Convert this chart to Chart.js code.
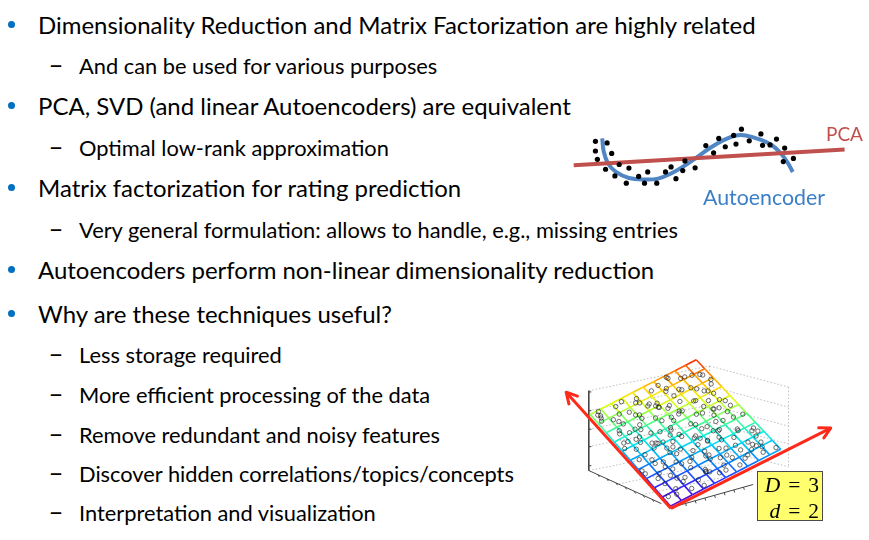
<!DOCTYPE html>
<html><head><meta charset="utf-8">
<script src="https://cdn.jsdelivr.net/npm/chart.js@4.4.1/dist/chart.umd.min.js"></script>
<style>
html,body{margin:0;padding:0;background:#fff;}
#page{position:relative;width:869px;height:540px;overflow:hidden;background:#fff;font-family:Lato,'Open Sans',sans-serif;color:#000;}
.line{position:absolute;white-space:nowrap;line-height:1.2;}
.dot{position:absolute;width:7px;height:7px;border-radius:50%;background:#0070C0;}
canvas{position:absolute;}
#ybox{position:absolute;left:757px;top:471px;width:64px;height:48px;background:#FFFF6E;border:1.5px solid #4a4a4a;}
</style></head><body><div id="page"></div>
<script>
// ---------- slide text ----------
const bulletTexts = [
  "Dimensionality Reduction and Matrix Factorization are highly related",
  "And can be used for various purposes",
  "PCA, SVD (and linear Autoencoders) are equivalent",
  "Optimal low-rank approximation",
  "Matrix factorization for rating prediction",
  "Very general formulation: allows to handle, e.g., missing entries",
  "Autoencoders perform non-linear dimensionality reduction",
  "Why are these techniques useful?",
  "Less storage required",
  "More efficient processing of the data",
  "Remove redundant and noisy features",
  "Discover hidden correlations/topics/concepts",
  "Interpretation and visualization"
];
const bulletLevels = [1,2,1,2,1,2,1,1,2,2,2,2,2];

// ---------- PCA / autoencoder illustration data ----------
const pcaDotsX = [3.23,4.43,3.23,4.9,3.43,4.27,5.67,6.67,5.23,7.67,8.6,6.4,8.27,9.53,10.43,11.0,11.5,12.2,12.43,13.47,14.57,15.37,15.9,16.57,17.43,17.67,18.23,19.03,20.23,20.4,21.17,21.83,22.67,23.57,22.53];
const pcaDotsY = [2.07,1.9,1.0,0.73,0.07,-1.03,-0.5,-0.9,-1.77,-1.83,-1.33,-2.57,-2.57,-2.57,-1.33,-0.77,-2.07,-1.17,-0.1,-0.87,1.6,0.8,2.4,1.47,2.73,1.77,3.43,2.13,2.9,1.63,1.67,2.33,1.33,0.17,-0.17];
const autoencoderX = [3.93,4.07,4.5,5.33,6.67,8.33,9.67,11.0,12.33,13.67,15.0,16.33,17.67,18.67,20.0,21.33,22.33,23.0,23.5];
const autoencoderY = [2.4,1.0,-0.33,-1.33,-2.0,-2.17,-2.07,-1.5,-0.67,0.33,1.33,2.17,2.73,2.73,2.33,1.67,0.67,-0.33,-1.33];
const pcaLineX = [1.0,28.83];
const pcaLineY = [-0.57,1.17];

// ---------- 3D plane illustration data ----------
const gridCount = 10;
const planeU = [
0.5,1.2,2.1,2.9,3.6,4.4,5.3,6.2,7.1,8.0,8.8,9.5,
0.8,1.6,2.4,3.1,4.0,4.8,5.7,6.5,7.4,8.3,9.1,
0.3,1.0,1.9,2.7,3.5,4.3,5.0,5.9,6.8,7.7,8.6,9.4,
0.6,1.4,2.2,3.0,3.8,4.6,5.5,6.3,7.2,8.1,8.9,9.7,
0.2,1.1,2.0,2.8,3.7,4.5,5.2,6.0,6.9,7.8,8.5,9.3,
0.9,1.7,2.5,3.4,4.2,5.1,5.8,6.7,7.5,8.4,9.2,
0.4,1.3,2.3,3.2,4.1,4.9,5.6,6.6,7.3,8.2,9.0,9.8,
0.7,1.5,2.6,3.3,4.2,5.0,6.1,6.9,7.9,8.7,9.5,
1.9,3.9,5.6,7.3,0.9,2.6,4.7,6.4,8.9,3.1,5.9,7.6,1.4,4.4,6.9,2.2,8.2,0.6,5.3,9.1,
0.35,1.45,2.75,3.85,4.95,6.05,7.15,8.25,9.35,
0.95,2.05,3.15,4.25,5.35,6.45,7.55,8.65,9.75,
0.55,1.65,2.85,3.95,5.05,6.15,7.25,8.35,9.45,
1.25,2.35,3.45,4.55,5.65,6.75,7.85,8.95,
0.15,1.85,2.95,4.05,5.15,6.25,7.35,8.45,9.55,
0.75,1.95,3.05,4.15,5.25,6.35,7.45,8.55,9.65,
1.05,2.15,3.25,4.35,5.45,6.55,7.65,8.75,
0.45,1.55,2.65,3.75,4.85,5.95,7.05,8.15,9.25
];
const planeV = [
9.3,8.7,9.6,8.2,9.1,8.5,9.4,8.8,9.7,8.1,9.0,8.6,
7.4,8.0,6.9,7.7,7.2,7.9,6.6,7.5,7.0,7.8,6.8,
6.1,5.6,6.4,5.2,6.0,5.7,6.3,5.4,5.9,6.2,5.5,5.8,
4.7,4.2,5.0,4.5,3.9,4.8,4.3,4.6,3.8,4.4,4.9,4.1,
3.4,2.9,3.6,3.1,2.6,3.3,2.8,3.5,3.0,2.7,3.2,2.5,
1.9,2.3,1.6,2.1,1.4,2.0,1.7,2.2,1.5,1.8,1.3,
0.8,1.1,0.5,0.9,1.2,0.6,1.0,0.4,0.7,1.1,0.9,0.3,
9.9,7.1,5.3,3.7,8.4,2.4,6.7,4.0,9.2,1.2,7.6,
8.9,9.4,7.6,8.3,6.5,7.3,8.1,9.0,7.2,5.1,6.8,4.6,3.8,5.9,3.3,2.7,5.6,9.5,4.2,6.1,
9.05,8.35,9.75,8.95,8.25,9.55,8.45,9.15,8.75,
7.65,7.15,8.05,6.75,7.45,8.15,6.95,7.35,7.95,
6.55,5.95,6.25,5.35,6.65,5.15,5.75,6.45,5.25,
4.85,5.45,4.35,5.05,3.95,4.55,5.15,4.25,
3.75,3.15,4.05,2.85,3.55,2.45,3.85,3.05,2.65,
2.55,1.85,2.75,1.25,2.35,1.65,2.05,1.45,2.25,
0.65,1.35,0.25,1.05,0.55,1.25,0.85,0.45,
9.65,6.35,8.65,4.75,7.85,3.45,9.85,5.65,1.95
];

// ---------- layout ----------
const page = document.getElementById('page');
const lineBaselines = [34,74,115,156,197,238,279,323,363,403,443,482,521];

function measure(html, size, family) {
  const s = document.createElement('span');
  s.style.cssText = 'position:absolute;white-space:nowrap;visibility:hidden;font-size:'+size+'px;'+(family?'font-family:'+family+';':'');
  s.innerHTML = html;
  page.appendChild(s);
  const w = s.getBoundingClientRect().width;
  page.removeChild(s);
  return w;
}
function makeText(html, left, baseline, size, opts) {
  opts = opts || {};
  if (opts.fitWidth) size = size * opts.fitWidth / measure(html, size, opts.family);
  const d = document.createElement('div');
  d.className = 'line';
  d.style.left = left + 'px';
  d.style.fontSize = size + 'px';
  if (opts.lineHeight) d.style.lineHeight = opts.lineHeight;
  if (opts.wordSpacing) d.style.wordSpacing = opts.wordSpacing;
  if (opts.color) d.style.color = opts.color;
  if (opts.family) d.style.fontFamily = opts.family;
  if (opts.align) { d.style.textAlign = opts.align; d.style.width = opts.width + 'px'; }
  const m = document.createElement('span');
  m.style.cssText = 'display:inline-block;width:0;height:0;vertical-align:baseline;';
  const t = document.createElement('span');
  t.innerHTML = html;
  d.appendChild(m); d.appendChild(t);
  page.appendChild(d);
  d.style.top = (baseline - m.offsetTop) + 'px';
  return d;
}

const size1 = 24 * 718 / measure(bulletTexts[0], 24);
const size2 = 20 * 599 / measure(bulletTexts[5], 20);
bulletTexts.forEach((txt, i) => {
  const b = lineBaselines[i];
  if (bulletLevels[i] === 1) {
    const dot = document.createElement('div');
    dot.className = 'dot';
    dot.style.left = '7.5px';
    dot.style.top = (b - 13.5) + 'px';
    page.appendChild(dot);
    makeText(txt, 38, b, size1);
  } else {
    makeText('\u2013', 48.5, b, size2, {fitWidth: 15});
    makeText(txt, 79, b, size2);
  }
});

// ---------- PCA chart ----------
function addCanvas(left, top, w, h) {
  const c = document.createElement('canvas');
  c.width = w; c.height = h;
  c.style.left = left + 'px'; c.style.top = top + 'px';
  c.style.width = w + 'px'; c.style.height = h + 'px';
  page.appendChild(c);
  return c;
}
const zip = (xs, ys) => xs.map((x, i) => ({x: x, y: ys[i]}));
const hiddenScales = (xmin, xmax, ymin, ymax) => ({
  x: {type: 'linear', min: xmin, max: xmax, display: false},
  y: {type: 'linear', min: ymin, max: ymax, display: false}
});
const baseOpts = {
  responsive: false, animation: false, events: [],
  layout: {padding: 0},
  plugins: {legend: {display: false}, tooltip: {enabled: false}}
};

new Chart(addCanvas(560, 120, 300, 80), {
  type: 'scatter',
  data: {datasets: [
    {data: zip(pcaDotsX, pcaDotsY), pointRadius: 2.6, pointBackgroundColor: '#000', pointBorderWidth: 0, clip: false},
    {data: zip(pcaLineX, pcaLineY), showLine: true, pointRadius: 0, borderColor: '#C0504D', borderWidth: 4, clip: false},
    {data: zip(autoencoderX, autoencoderY), showLine: true, pointRadius: 0, borderColor: '#4F86C3', borderWidth: 4, tension: 0.4, borderCapStyle: 'butt', clip: false}
  ]},
  options: Object.assign({}, baseOpts, {scales: hiddenScales(0, 30, -4, 4)})
});
makeText('PCA', 826, 141, 20, {color: '#C0504D', fitWidth: 37});
makeText('Autoencoder', 703, 205, 20, {color: '#3B7FC6', fitWidth: 122});

// ---------- 3D plane chart ----------
const cB = [39.8, 10.2], cR = [77.8, 30.2], cL = [12.2, 42.4], cT = [48.7, 61.6];
function proj(u, v) {
  const a = u / gridCount, b = v / gridCount;
  return {
    x: cB[0]*(1-a)*(1-b) + cR[0]*a*(1-b) + cL[0]*(1-a)*b + cT[0]*a*b,
    y: cB[1]*(1-a)*(1-b) + cR[1]*a*(1-b) + cL[1]*(1-a)*b + cT[1]*a*b
  };
}
const cmapStops = [[0,[95,0,200]],[0.14,[45,35,255]],[0.3,[0,140,255]],[0.44,[0,230,240]],[0.57,[70,255,140]],[0.7,[215,255,20]],[0.78,[255,225,0]],[0.9,[255,140,0]],[1,[255,30,0]]];
function cmap(h) {
  h = Math.max(0, Math.min(1, h));
  for (let i = 1; i < cmapStops.length; i++) {
    const [h1, c1] = cmapStops[i], [h0, c0] = cmapStops[i-1];
    if (h <= h1) {
      const t = (h - h0) / (h1 - h0);
      return 'rgb(' + c0.map((c, k) => Math.round(c + (c1[k]-c)*t)).join(',') + ')';
    }
  }
  return 'rgb(255,30,0)';
}
const height = (u, v) => (0.35*u + 0.65*v) / gridCount;

const ticks = [];
const gridSets = [];
for (let k = 0; k <= gridCount; k++) {
  const alongU = [], alongV = [];
  for (let i = 0; i <= gridCount; i++) { alongU.push(proj(i, k)); alongV.push(proj(k, i)); }
  const kk = k;
  gridSets.push({data: alongU, showLine: true, pointRadius: 0, borderWidth: 1.6, clip: false,
    segment: {borderColor: ctx => cmap(height(ctx.p0DataIndex + 0.5, kk))}});
  gridSets.push({data: alongV, showLine: true, pointRadius: 0, borderWidth: 1.6, clip: false,
    segment: {borderColor: ctx => cmap(height(kk, ctx.p0DataIndex + 0.5))}});
}
const boxSolid = [
  [{x:11.7,y:50.7},{x:11.7,y:22.7}],
  [{x:11.7,y:22.7},{x:36.7,y:11.1}],
  [{x:41.7,y:10.2},{x:68.3,y:17.8}]
];
const boxDotted = [
  [{x:11.7,y:50.7},{x:53.3,y:59.4}],
  [{x:53.3,y:59.4},{x:53.3,y:31.1}],
  [{x:11.7,y:22.7},{x:53.3,y:31.1}],
  [{x:53.3,y:31.1},{x:80.5,y:24.0}],
  [{x:53.3,y:59.4},{x:80.5,y:52.0}],
  [{x:80.5,y:52.0},{x:80.5,y:24.0}],
  [{x:11.7,y:43.7},{x:53.3,y:52.3}],
  [{x:11.7,y:37.2},{x:53.3,y:45.7}],
  [{x:11.7,y:31.1},{x:53.3,y:39.6}],
  [{x:53.3,y:52.3},{x:80.5,y:45.0}],
  [{x:53.3,y:45.7},{x:80.5,y:38.3}],
  [{x:53.3,y:39.6},{x:80.5,y:32.0}],
  [{x:22,y:18},{x:62,y:26.5}],
  [{x:30,y:14.2},{x:68,y:22.5}]
];
const tickY = [50.3, 43.7, 37.2, 31.1, 24.4];
tickY.forEach(t => ticks.push([{x:11.7,y:t},{x:12.6,y:t}]));
for (let i = 1; i < 8; i++) {
  const f = i / 8;
  const p = {x: 11.7 + (36.7-11.7)*f, y: 22.7 + (11.1-22.7)*f};
  ticks.push([p, {x: p.x + 0.5, y: p.y - 0.8}]);
  const q = {x: 41.7 + (68.3-41.7)*f, y: 10.2 + (17.8-10.2)*f};
  ticks.push([q, {x: q.x + 0.3, y: q.y - 0.9}]);
}
const arrowOrigin = {x: 40, y: 9.4};
const arrowTips = [{x: 3.9, y: 50.2}, {x: 95, y: 37.6}];

const arrowHeads = {
  id: 'arrowHeads',
  afterDatasetsDraw(chart) {
    const ctx = chart.ctx;
    chart.data.datasets.forEach((ds, di) => {
      if (!ds.isArrow) return;
      const pts = chart.getDatasetMeta(di).data;
      const a = pts[0], b = pts[1];
      const ang = Math.atan2(b.y - a.y, b.x - a.x);
      ctx.save();
      ctx.strokeStyle = ds.borderColor; ctx.lineWidth = 3; ctx.lineCap = 'round';
      ctx.beginPath();
      [0.5, -0.5].forEach(s => {
        ctx.moveTo(b.x, b.y);
        ctx.lineTo(b.x - 12*Math.cos(ang + s), b.y - 12*Math.sin(ang + s));
      });
      ctx.stroke();
      ctx.restore();
    });
  }
};

const datasets3d = [];
arrowTips.forEach(t => datasets3d.push({data: [arrowOrigin, t], isArrow: true, showLine: true, pointRadius: 0, borderColor: '#FF2A1A', borderWidth: 3, clip: false}));
datasets3d.push({data: planeU.map((u, i) => proj(u, planeV[i])), pointRadius: 2.2, pointBorderWidth: 0.8, pointBorderColor: 'rgba(30,30,30,0.8)', pointBackgroundColor: 'rgba(0,0,0,0)', clip: false});
gridSets.forEach(g => datasets3d.push(g));
boxSolid.concat(ticks).forEach(s => datasets3d.push({data: s, showLine: true, pointRadius: 0, borderColor: '#444', borderWidth: 1, clip: false}));
boxDotted.forEach(s => datasets3d.push({data: s, showLine: true, pointRadius: 0, borderColor: '#bdbdbd', borderWidth: 1, borderDash: [1.5, 2], clip: false}));

new Chart(addCanvas(550, 350, 300, 190), {
  type: 'scatter',
  data: {datasets: datasets3d},
  options: Object.assign({}, baseOpts, {scales: hiddenScales(0, 100, 0, 63.333)}),
  plugins: [arrowHeads]
});

// ---------- D/d label box ----------
const yb = document.createElement('div');
yb.id = 'ybox';
page.appendChild(yb);
const serif = "'Liberation Serif','DejaVu Serif',serif";
makeText('<i>D</i> = 3<br><i>d</i> = 2', 759, 492, 21.5,
  {family: serif, lineHeight: '26px', wordSpacing: '2.5px', align: 'right', width: 60});
</script></body></html>
